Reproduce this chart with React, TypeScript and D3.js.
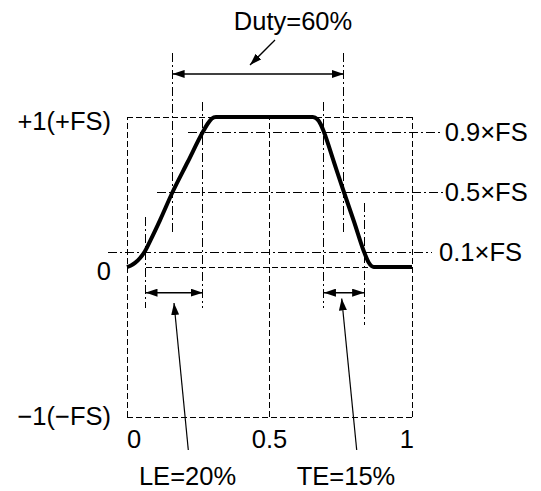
import React from "react";
import * as d3 from "d3";

// Waveform (x in period fraction, y in FS units)
const waveX = [0, 0.014, 0.028, 0.046, 0.063, 0.081, 0.116, 0.16, 0.213, 0.266, 0.283, 0.297, 0.312, 0.5, 0.652, 0.668, 0.68, 0.691, 0.726, 0.761, 0.797, 0.832, 0.848, 0.866, 1.0];
const waveY = [0, 0.01, 0.027, 0.06, 0.105, 0.173, 0.313, 0.5, 0.7, 0.9, 0.955, 0.988, 1, 1, 1, 0.985, 0.95, 0.9, 0.7, 0.5, 0.3, 0.1, 0.03, 0, 0];

// Threshold levels and crossings
const levels = [0.9, 0.5, 0.1];
const levelLabels = ["0.9×FS", "0.5×FS", "0.1×FS"];
const riseCross = [0.266, 0.16, 0.065]; // at 0.9, 0.5, 0.1
const fallCross = [0.691, 0.761, 0.832];

const xTicks = [0, 0.5, 1];
const xTickLabels = ["0", "0.5", "1"];
const yTicks = [1, 0, -1];
const yTickLabels = ["+1(+FS)", "0", "−1(−FS)"];

const dutyLabel = "Duty=60%";
const leLabel = "LE=20%";
const teLabel = "TE=15%";

export default function App() {
  const W = 541, H = 491;
  const x = d3.scaleLinear().domain([0, 1]).range([127, 412]);
  const y = d3.scaleLinear().domain([-1, 1]).range([417, 117]);

  const line = d3
    .line<number>()
    .x((_, i) => x(waveX[i]))
    .y((d) => y(d))
    .curve(d3.curveMonotoneX);

  const font = "'Liberation Sans', Arial, Helvetica, sans-serif";
  const fs = 25.5;
  const dash = "6,3";
  const dashDot = "9,3,2,3";

  const vLine = (xv: number, y1: number, y2: number, da: string, key: string) => (
    <line key={key} x1={x(xv)} x2={x(xv)} y1={y(y1)} y2={y(y2)} stroke="#000" strokeWidth={1} strokeDasharray={da} shapeRendering="crispEdges" />
  );
  const hLine = (yv: number, x1: number, x2: number, da: string, key: string) => (
    <line key={key} x1={x(x1)} x2={x(x2)} y1={y(yv)} y2={y(yv)} stroke="#000" strokeWidth={1} strokeDasharray={da} shapeRendering="crispEdges" />
  );

  // horizontal extents of threshold dash-dot lines (in x-domain units)
  const levelStart = [0.214, 0.105, -0.067];
  const levelEnd = [1.107, 1.109, 1.07];
  const levelLabelX = [1.115, 1.115, 1.095];

  const armY = -0.171;
  const dutyY = 1.287;

  return (
    <svg width={W} height={H} style={{ position: "absolute", left: 0, top: 0, background: "#fff" }}>
      <defs>
        <marker id="ah" viewBox="0 0 12 8" refX={12} refY={4} markerWidth={12} markerHeight={8} markerUnits="userSpaceOnUse" orient="auto-start-reverse">
          <path d="M0,0 L12,4 L0,8 Z" fill="#000" />
        </marker>
      </defs>

      {/* dashed frame / grid */}
      {vLine(0, -1, 1, dash, "g0")}
      {vLine(0.5, -1, 1, dash, "g1")}
      {vLine(1, -1, 1, dash, "g2")}
      {hLine(1, 0, 1, dash, "h1")}
      {hLine(-1, 0, 1, dash, "h-1")}
      {hLine(0, riseCross[2], 1, dash, "h0")}

      {/* threshold dash-dot lines */}
      {levels.map((lv, i) => hLine(lv, levelStart[i], levelEnd[i], dashDot, "lv" + i))}

      {/* vertical dash-dot markers */}
      {vLine(riseCross[1], 1.43, 0.213, dashDot, "v50r")}
      {vLine(fallCross[1], 1.43, 0.213, dashDot, "v50f")}
      {vLine(riseCross[0], 1.1, -0.273, dashDot, "v90r")}
      {vLine(fallCross[0], 1.1, -0.273, dashDot, "v90f")}
      {vLine(riseCross[2], 0.335, -0.273, dashDot, "v10r")}
      {vLine(fallCross[2], 0.427, -0.387, dashDot, "v10f")}

      {/* waveform */}
      <path d={line(waveY) || ""} fill="none" stroke="#000" strokeWidth={4} strokeLinejoin="round" />

      {/* Duty arrow */}
      <line x1={x(riseCross[1])} x2={x(fallCross[1])} y1={y(dutyY)} y2={y(dutyY)} stroke="#000" strokeWidth={1.5} markerStart="url(#ah)" markerEnd="url(#ah)" />
      <line x1={275} y1={40} x2={250} y2={65} stroke="#000" strokeWidth={1.3} markerEnd="url(#ah)" />

      {/* LE / TE arrows */}
      <line x1={x(riseCross[2])} x2={x(riseCross[0])} y1={y(armY)} y2={y(armY)} stroke="#000" strokeWidth={1.5} markerStart="url(#ah)" markerEnd="url(#ah)" />
      <line x1={x(fallCross[0])} x2={x(fallCross[2])} y1={y(armY)} y2={y(armY)} stroke="#000" strokeWidth={1.5} markerStart="url(#ah)" markerEnd="url(#ah)" />
      <line x1={188.3} y1={450} x2={174} y2={303} stroke="#000" strokeWidth={1.2} markerEnd="url(#ah)" />
      <line x1={356.7} y1={450} x2={341.7} y2={298.5} stroke="#000" strokeWidth={1.2} markerEnd="url(#ah)" />

      {/* texts */}
      <g fontFamily={font} fontSize={fs} fill="#000">
        <text x={293} y={30} textAnchor="middle">{dutyLabel}</text>
        <text x={187.5} y={485} textAnchor="middle">{leLabel}</text>
        <text x={346} y={485} textAnchor="middle">{teLabel}</text>
        {yTicks.map((t, i) => (
          <text key={"yt" + i} x={111} y={y(t) + (t === 1 ? 12.5 : t === 0 ? 12.5 : 8)} textAnchor="end">{yTickLabels[i]}</text>
        ))}
        {xTicks.map((t, i) => (
          <text key={"xt" + i} x={x(t) + (i === 2 ? 2 : 0)} y={448} textAnchor={i === 0 ? "start" : i === 2 ? "end" : "middle"}>{xTickLabels[i]}</text>
        ))}
        {levels.map((lv, i) => (
          <text key={"ll" + i} x={x(levelLabelX[i])} y={y(lv) + 9} textAnchor="start">{levelLabels[i]}</text>
        ))}
      </g>
    </svg>
  );
}
